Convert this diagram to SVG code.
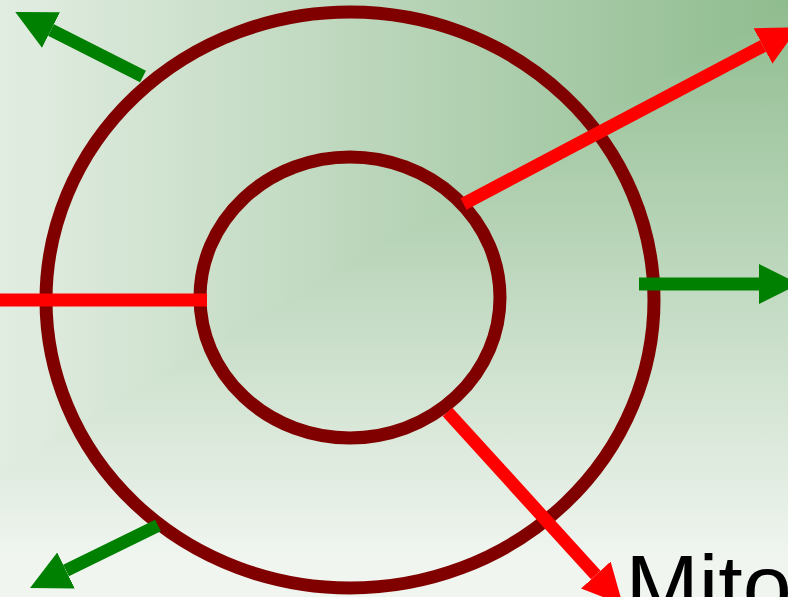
<svg xmlns="http://www.w3.org/2000/svg" width="788" height="597" viewBox="0 0 788 597">
  <defs>
    <linearGradient id="bgH" gradientUnits="userSpaceOnUse" x1="788" y1="0" x2="0" y2="0">
      <stop offset="0" stop-color="#8fbc8f"/>
      <stop offset="1" stop-color="#e2ede2"/>
    </linearGradient>
    <linearGradient id="bgV" gradientUnits="userSpaceOnUse" x1="0" y1="0" x2="0" y2="560">
      <stop offset="0" stop-color="#8fbc8f"/>
      <stop offset="1" stop-color="#f0f5f0"/>
    </linearGradient>
    <marker id="headGreen" viewBox="0 0 10 10" refX="0" refY="5" markerWidth="3.08" markerHeight="3.08" markerUnits="strokeWidth" orient="auto">
      <path d="M0,0 L10,5 L0,10 Z" fill="#008000"/>
    </marker>
    <marker id="headRed" viewBox="0 0 10 10" refX="0" refY="5" markerWidth="3.08" markerHeight="3.08" markerUnits="strokeWidth" orient="auto">
      <path d="M0,0 L10,5 L0,10 Z" fill="#ff0000"/>
    </marker>
  </defs>
  <style>
    .ring { fill: none; stroke: #800000; stroke-width: 13; }
    .green { stroke: #008000; stroke-width: 13; fill: none; marker-end: url(#headGreen); }
    .red { stroke: #ff0000; stroke-width: 13; fill: none; }
    .red.arrow { marker-end: url(#headRed); }
    .label { font-family: "Liberation Sans", Arial, sans-serif; font-size: 88px; fill: #000000; }
  </style>
  <g id="background">
    <rect x="0" y="0" width="788" height="597" fill="url(#bgV)"/>
    <polygon points="0,0 788,0 0,470" fill="url(#bgH)"/>
  </g>
  <g id="outer-ring">
    <ellipse class="ring" cx="350" cy="300" rx="304" ry="288"/>
  </g>
  <g id="inner-ring">
    <ellipse class="ring" cx="350" cy="297.5" rx="150" ry="140.5"/>
  </g>
  <g id="connectors">
    <line class="red" x1="0" y1="300" x2="207" y2="300"/>
    <line class="red arrow" x1="463.5" y1="204" x2="763" y2="46"/>
    <line class="red arrow" x1="447.5" y1="412" x2="595.8" y2="575"/>
    <line class="green" x1="143" y1="76.5" x2="51" y2="30"/>
    <line class="green" x1="158" y1="525.5" x2="66" y2="570.5"/>
    <line class="green" x1="639" y1="284" x2="759" y2="284"/>
  </g>
  <g id="label-mito">
    <text class="label" x="625.5" y="616">Mito</text>
  </g>
</svg>
